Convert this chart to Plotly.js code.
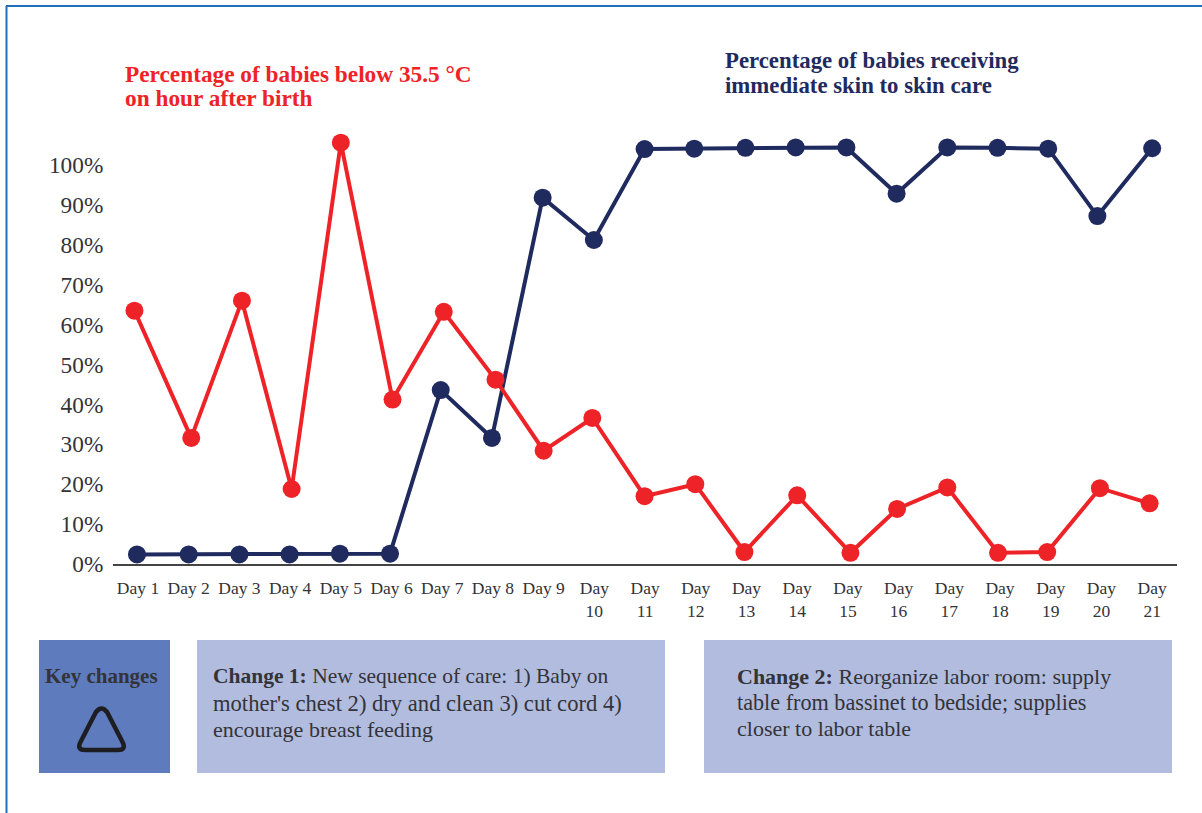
<!DOCTYPE html>
<html><head><meta charset="utf-8">
<script src="https://cdn.plot.ly/plotly-3.0.1.min.js"></script>
<style>html,body{margin:0;padding:0;background:#fff}#c{width:1202px;height:813px}</style>
</head><body><div id="c"></div>
<script>
const W=1202,H=813;
const tickDays=[1,2,3,4,5,6,7,8,9,10,11,12,13,14,15,16,17,18,19,20,21];
const tickLabels=["Day 1","Day 2","Day 3","Day 4","Day 5","Day 6","Day 7","Day 8","Day 9","Day<br>10","Day<br>11","Day<br>12","Day<br>13","Day<br>14","Day<br>15","Day<br>16","Day<br>17","Day<br>18","Day<br>19","Day<br>20","Day<br>21"];
const redDays=[0.93,2.05,3.05,4.03,5.0,6.02,7.03,8.05,9.0,9.96,10.99,11.99,12.96,14.0,15.05,15.97,16.96,17.96,18.93,19.97,20.95];
const redPct=[63.5,31.6,66,18.8,105.6,41.2,63.2,46.2,28.4,36.6,17,20,3,17.2,2.8,13.8,19.2,2.8,3,19,15.2];
const blueDays=[0.98,2.0,3.0,3.99,4.98,5.97,6.97,7.98,8.98,9.99,10.99,11.97,12.98,13.97,14.97,15.96,16.96,17.95,18.95,19.92,21.0];
const bluePct=[2.4,2.4,2.4,2.4,2.6,2.6,43.6,31.6,91.8,81.2,104,104.1,104.3,104.4,104.4,92.8,104.4,104.3,104.1,87.2,104.2];
const yTicks=[0,10,20,30,40,50,60,70,80,90,100];
const yLabels=["0%","10%","20%","30%","40%","50%","60%","70%","80%","90%","100%"];
const RED="#ee2327",NAVY="#1f2a5f",TXT="#333338",SERIF="'Liberation Serif',serif";
const px=x=>x/W, py=y=>1-y/H;
const box=(x0,y0,x1,y1,c)=>({type:"rect",xref:"paper",yref:"paper",x0:px(x0),x1:px(x1),y0:py(y0),y1:py(y1),fillcolor:c,line:{width:0},layer:"below"});
const line=(x0,y0,x1,y1)=>({type:"line",xref:"paper",yref:"paper",x0:px(x0),x1:px(x1),y0:py(y0),y1:py(y1),line:{color:"#1f6fbd",width:2}});
const P=(x,y)=>px(x)+","+py(y);
const tri={type:"path",xref:"paper",yref:"paper",
 path:"M"+P(96,712)+" Q"+P(101.5,705)+" "+P(107,712)+" L"+P(122,741)+" Q"+P(127,750)+" "+P(118,750)+" L"+P(85,750)+" Q"+P(76,750)+" "+P(81,741)+" Z",
 line:{color:"#1d1d22",width:4.5},fillcolor:"rgba(0,0,0,0)"};
const note=(x,y,text,color,size,anchor)=>({xref:"paper",yref:"paper",x:px(x),y:py(y),text,showarrow:false,xanchor:anchor||"left",yanchor:"middle",align:"left",font:{family:SERIF,size,color}});
const notes=[
 note(123,74,"<b>Percentage of babies below 35.5 °C</b>",RED,23.3),
 note(123,98,"<b>on hour after birth</b>",RED,23.3),
 note(723,61,"<b>Percentage of babies receiving</b>",NAVY,22.8),
 note(723,85,"<b>immediate skin to skin care</b>",NAVY,22.8),
 note(101.5,676,"<b>Key changes</b>",TXT,21,"center"),
 note(211,676,"<b>Change 1:</b> New sequence of care: 1) Baby on",TXT,21.5),
 note(211,703,"mother's chest 2) dry and clean 3) cut cord 4)",TXT,22.6),
 note(211,729.5,"encourage breast feeding",TXT,22),
 note(735,676,"<b>Change 2:</b> Reorganize labor room: supply",TXT,22),
 note(735,702,"table from bassinet to bedside; supplies",TXT,22.2),
 note(735,728.5,"closer to labor table",TXT,22)
];
const series=(x,y,c)=>({type:"scatter",mode:"lines+markers",x,y,cliponaxis:false,hoverinfo:"x+y",line:{color:c,width:4},marker:{color:c,size:18}});
Plotly.newPlot("c",[series(blueDays,bluePct,NAVY),series(redDays,redPct,RED)],{
 width:W,height:H,margin:{l:0,r:0,t:0,b:0,pad:0},paper_bgcolor:"#fff",plot_bgcolor:"rgba(0,0,0,0)",showlegend:false,
 xaxis:{domain:[113/W,1177/W],range:[0.507,21.49],tickmode:"array",tickvals:tickDays,ticktext:tickLabels,ticks:"outside",ticklen:7,tickcolor:"rgba(0,0,0,0)",tickangle:0,
  tickfont:{family:SERIF,size:17.5,color:TXT},showgrid:false,zeroline:false,showline:true,linecolor:"#444",linewidth:2,automargin:false},
 yaxis:{domain:[(H-564)/H,1],range:[0,564/3.99],tickmode:"array",tickvals:yTicks,ticktext:yLabels,ticks:"outside",ticklen:4,tickcolor:"rgba(0,0,0,0)",
  tickfont:{family:SERIF,size:23.3,color:TXT},showgrid:false,zeroline:false,showline:false,automargin:false},
 shapes:[line(6.5,6,6.5,813),line(6,6,1202,6),box(39,640,170,773,"#5d7bbd"),box(197,640,665,773,"#b1bcdf"),box(704,640,1172,773,"#b1bcdf"),tri],
 annotations:notes
},{displayModeBar:false,responsive:false});
</script></body></html>
